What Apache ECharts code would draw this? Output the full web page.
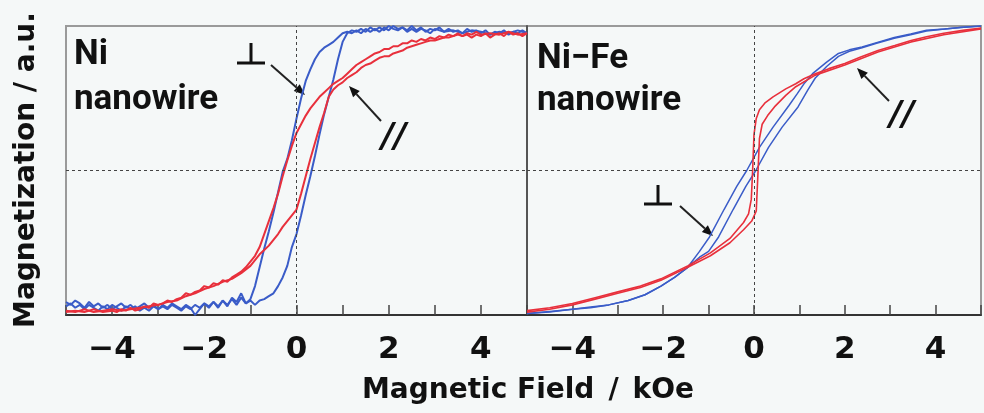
<!DOCTYPE html>
<html><head><meta charset="utf-8">
<script src="https://cdn.jsdelivr.net/npm/echarts@6/dist/echarts.min.js"></script>
<style>html,body{margin:0;padding:0;background:#f5f8f8}#c{width:984px;height:413px}</style>
</head><body><div id="c"></div>
<script>
// ---- tick labels ----
const xTickLabels = [-4, -2, 0, 2, 4];

// ---- Ni nanowire, perpendicular (blue) ----
const niPerpDown = [[5.0,0.95],[4.9,0.97],[4.8,0.95],[4.7,0.96],[4.6,0.94],[4.5,0.97],[4.4,0.95],[4.3,0.96],[4.2,0.94],[4.1,0.97],[4.0,0.95],[3.9,0.97],[3.8,0.96],[3.7,0.98],[3.6,0.95],[3.5,0.97],[3.4,0.96],[3.3,0.98],[3.2,0.96],[3.1,0.99],[3.0,0.97],[2.9,0.98],[2.8,0.96],[2.7,0.99],[2.6,0.97],[2.5,1.0],[2.4,0.97],[2.3,0.99],[2.2,0.98],[2.1,1.0],[2.0,0.97],[1.9,0.99],[1.8,0.96],[1.7,0.98],[1.6,0.96],[1.5,0.98],[1.4,0.95],[1.3,0.97],[1.2,0.95],[1.1,0.96],[1.0,0.95],[0.9,0.92],[0.8,0.89],[0.7,0.87],[0.6,0.85],[0.5,0.82],[0.4,0.77],[0.3,0.7],[0.2,0.62],[0.1,0.5],[0.0,0.36],[-0.1,0.21],[-0.2,0.08],[-0.3,-0.01],[-0.4,-0.15],[-0.5,-0.29],[-0.6,-0.42],[-0.7,-0.54],[-0.8,-0.67],[-0.9,-0.8],[-1.0,-0.89],[-1.1,-0.92],[-1.2,-0.85],[-1.3,-0.91],[-1.4,-0.88],[-1.5,-0.94],[-1.6,-0.9],[-1.7,-0.95],[-1.8,-0.91],[-1.9,-0.94],[-2.0,-0.92],[-2.1,-0.96],[-2.2,-1.0],[-2.3,-0.95],[-2.4,-0.93],[-2.5,-0.96],[-2.6,-0.94],[-2.7,-0.92],[-2.8,-0.95],[-2.9,-0.93],[-3.0,-0.96],[-3.1,-0.93],[-3.2,-0.95],[-3.3,-0.92],[-3.4,-0.94],[-3.5,-0.96],[-3.6,-0.93],[-3.7,-0.95],[-3.8,-0.92],[-3.9,-0.94],[-4.0,-0.96],[-4.1,-0.93],[-4.2,-0.95],[-4.3,-0.92],[-4.4,-0.94],[-4.5,-0.91],[-4.6,-0.95],[-4.7,-0.92],[-4.8,-0.9],[-4.9,-0.93],[-5.0,-0.91]];
const niPerpUp = [[-5.0,-0.94],[-4.9,-0.92],[-4.8,-0.95],[-4.7,-0.93],[-4.6,-0.96],[-4.5,-0.93],[-4.4,-0.95],[-4.3,-0.97],[-4.2,-0.94],[-4.1,-0.96],[-4.0,-0.93],[-3.9,-0.95],[-3.8,-0.97],[-3.7,-0.94],[-3.6,-0.96],[-3.5,-0.94],[-3.4,-0.97],[-3.3,-0.95],[-3.2,-0.97],[-3.1,-0.94],[-3.0,-0.96],[-2.9,-0.94],[-2.8,-0.96],[-2.7,-0.93],[-2.6,-0.95],[-2.5,-0.97],[-2.4,-0.94],[-2.3,-0.96],[-2.2,-0.93],[-2.1,-0.95],[-2.0,-0.92],[-1.9,-0.95],[-1.8,-0.91],[-1.7,-0.94],[-1.6,-0.9],[-1.5,-0.93],[-1.4,-0.89],[-1.3,-0.93],[-1.2,-0.88],[-1.1,-0.92],[-1.0,-0.9],[-0.9,-0.93],[-0.8,-0.9],[-0.7,-0.89],[-0.6,-0.87],[-0.5,-0.85],[-0.4,-0.8],[-0.3,-0.74],[-0.2,-0.66],[-0.1,-0.53],[0.0,-0.44],[0.1,-0.31],[0.2,-0.17],[0.3,-0.04],[0.4,0.1],[0.5,0.25],[0.6,0.39],[0.7,0.51],[0.8,0.63],[0.9,0.77],[1.0,0.89],[1.1,0.95],[1.2,0.97],[1.3,0.96],[1.4,0.98],[1.5,0.96],[1.6,0.99],[1.7,0.97],[1.8,0.99],[1.9,0.97],[2.0,1.0],[2.1,0.98],[2.2,0.97],[2.3,0.99],[2.4,0.96],[2.5,0.98],[2.6,0.96],[2.7,0.98],[2.8,0.97],[2.9,0.95],[3.0,0.98],[3.2,0.96],[3.4,0.97],[3.6,0.95],[3.8,0.97],[4.0,0.96],[4.2,0.94],[4.4,0.96],[4.6,0.95],[4.8,0.97],[5.0,0.95]];

// ---- Ni nanowire, parallel (red) ----
const niParaDown = [[5.0,0.95],[4.9,0.93],[4.8,0.95],[4.7,0.94],[4.6,0.96],[4.5,0.93],[4.4,0.95],[4.3,0.94],[4.2,0.92],[4.1,0.95],[4.0,0.93],[3.9,0.94],[3.8,0.92],[3.7,0.94],[3.6,0.93],[3.5,0.95],[3.4,0.93],[3.3,0.94],[3.2,0.92],[3.1,0.93],[3.0,0.91],[2.9,0.92],[2.8,0.9],[2.7,0.91],[2.6,0.89],[2.5,0.9],[2.4,0.88],[2.3,0.88],[2.2,0.86],[2.1,0.86],[2.0,0.84],[1.9,0.84],[1.8,0.82],[1.7,0.81],[1.6,0.79],[1.5,0.77],[1.4,0.75],[1.3,0.73],[1.2,0.7],[1.1,0.67],[1.0,0.64],[0.9,0.62],[0.8,0.6],[0.7,0.57],[0.6,0.54],[0.5,0.51],[0.4,0.47],[0.3,0.43],[0.2,0.38],[0.1,0.32],[0.0,0.26],[-0.1,0.17],[-0.2,0.07],[-0.3,-0.04],[-0.4,-0.16],[-0.5,-0.26],[-0.6,-0.35],[-0.7,-0.44],[-0.8,-0.53],[-0.9,-0.59],[-1.0,-0.63],[-1.1,-0.67],[-1.2,-0.7],[-1.3,-0.72],[-1.4,-0.74],[-1.5,-0.77],[-1.6,-0.76],[-1.7,-0.79],[-1.8,-0.78],[-1.9,-0.81],[-2.0,-0.8],[-2.1,-0.83],[-2.2,-0.84],[-2.3,-0.86],[-2.4,-0.85],[-2.5,-0.88],[-2.6,-0.89],[-2.7,-0.91],[-2.8,-0.9],[-2.9,-0.92],[-3.0,-0.93],[-3.1,-0.92],[-3.2,-0.95],[-3.3,-0.94],[-3.4,-0.96],[-3.5,-0.97],[-3.6,-0.95],[-3.7,-0.97],[-3.8,-0.96],[-3.9,-0.98],[-4.0,-0.97],[-4.2,-0.98],[-4.4,-0.96],[-4.6,-0.98],[-4.8,-0.97],[-5.0,-0.98]];
const niParaUp = [[-5.0,-0.97],[-4.8,-0.98],[-4.6,-0.96],[-4.4,-0.98],[-4.2,-0.97],[-4.0,-0.96],[-3.8,-0.97],[-3.6,-0.96],[-3.4,-0.95],[-3.2,-0.94],[-3.0,-0.93],[-2.8,-0.91],[-2.6,-0.9],[-2.4,-0.87],[-2.2,-0.85],[-2.0,-0.82],[-1.8,-0.8],[-1.6,-0.77],[-1.4,-0.75],[-1.2,-0.71],[-1.0,-0.66],[-0.9,-0.62],[-0.8,-0.58],[-0.7,-0.55],[-0.6,-0.52],[-0.5,-0.48],[-0.4,-0.44],[-0.3,-0.39],[-0.2,-0.35],[-0.1,-0.31],[0.0,-0.27],[0.1,-0.16],[0.2,-0.04],[0.3,0.08],[0.4,0.19],[0.5,0.3],[0.6,0.4],[0.7,0.51],[0.8,0.56],[0.9,0.59],[1.0,0.61],[1.1,0.64],[1.2,0.66],[1.3,0.68],[1.4,0.71],[1.5,0.73],[1.6,0.74],[1.7,0.76],[1.8,0.78],[1.9,0.79],[2.0,0.79],[2.1,0.81],[2.2,0.82],[2.3,0.83],[2.4,0.85],[2.5,0.86],[2.6,0.87],[2.7,0.88],[2.8,0.89],[2.9,0.9],[3.0,0.9],[3.1,0.91],[3.2,0.92],[3.3,0.92],[3.4,0.93],[3.5,0.94],[3.6,0.93],[3.7,0.95],[3.8,0.94],[3.9,0.96],[4.0,0.94],[4.2,0.95],[4.4,0.94],[4.6,0.96],[4.8,0.94],[5.0,0.95]];

// ---- Ni-Fe nanowire, perpendicular (blue) ----
const nifePerpDown = [[5.0,1.0],[4.54,0.99],[4.2,0.98],[3.8,0.97],[3.45,0.945],[3.09,0.92],[2.7,0.885],[2.38,0.855],[2.1,0.835],[1.86,0.81],[1.6,0.75],[1.29,0.67],[1.1,0.6],[0.95,0.53],[0.77,0.45],[0.42,0.3],[0.12,0.16],[-0.16,0.0],[-0.38,-0.11],[-0.66,-0.27],[-0.98,-0.46],[-1.2,-0.56],[-1.46,-0.67],[-1.75,-0.74],[-2.05,-0.8],[-2.4,-0.86],[-2.77,-0.9],[-3.2,-0.93],[-3.6,-0.95],[-4.0,-0.96],[-4.5,-0.98],[-5.0,-0.99]];
const nifePerpUp = [[-5.0,-0.99],[-4.5,-0.975],[-4.0,-0.96],[-3.6,-0.945],[-3.2,-0.93],[-2.77,-0.9],[-2.4,-0.86],[-2.05,-0.8],[-1.75,-0.74],[-1.46,-0.67],[-1.2,-0.6],[-1.0,-0.56],[-0.78,-0.46],[-0.46,-0.27],[-0.18,-0.11],[0.04,0.0],[0.32,0.16],[0.62,0.3],[0.97,0.44],[1.19,0.56],[1.35,0.64],[1.6,0.72],[1.86,0.79],[2.1,0.825],[2.38,0.85],[2.7,0.88],[3.09,0.915],[3.45,0.94],[3.8,0.965],[4.2,0.98],[4.54,0.99],[5.0,1.0]];

// ---- Ni-Fe nanowire, parallel (red) ----
const nifeParaDown = [[5.0,0.985],[4.6,0.97],[4.18,0.95],[3.8,0.925],[3.46,0.9],[3.1,0.865],[2.73,0.83],[2.35,0.785],[2.0,0.74],[1.65,0.705],[1.35,0.67],[1.1,0.635],[0.92,0.6],[0.7,0.565],[0.42,0.51],[0.25,0.47],[0.12,0.42],[0.05,0.36],[0.0,0.25],[-0.03,0.0],[-0.06,-0.2],[-0.12,-0.3],[-0.23,-0.36],[-0.53,-0.47],[-0.96,-0.57],[-1.46,-0.66],[-2.05,-0.75],[-2.5,-0.8],[-3.0,-0.84],[-3.5,-0.88],[-4.0,-0.92],[-4.5,-0.95],[-5.0,-0.97]];
const nifeParaUp = [[-5.0,-0.98],[-4.5,-0.96],[-4.0,-0.93],[-3.5,-0.89],[-3.0,-0.85],[-2.5,-0.81],[-2.05,-0.76],[-1.46,-0.67],[-0.96,-0.59],[-0.53,-0.5],[-0.23,-0.41],[-0.05,-0.35],[0.05,-0.28],[0.09,0.0],[0.12,0.22],[0.18,0.32],[0.3,0.38],[0.45,0.44],[0.7,0.52],[0.92,0.58],[1.35,0.66],[2.0,0.73],[2.73,0.82],[3.46,0.89],[4.18,0.94],[5.0,0.98]];

const BLUE = '#3a5cc8', RED = '#e8303c', FONT = 'DejaVu Sans';
const chart = echarts.init(document.getElementById('c'));

function tickFmt(v) { return xTickLabels.indexOf(v) >= 0 ? String(v).replace('-', '\u2212') : ''; }
function xAx(i) {
  return { gridIndex: i, type: 'value', min: -5, max: 5, interval: 1,
    axisLine: { show: true, onZero: false, lineStyle: { color: '#333', width: 2 } },
    axisTick: { show: true, inside: true, length: 10, lineStyle: { color: '#444', width: 1.5 } },
    axisLabel: { formatter: tickFmt, margin: 19, color: '#111', fontFamily: FONT, fontWeight: 'bold', fontSize: 31 },
    splitLine: { show: false } };
}
function yAx(i, showLine) {
  return { gridIndex: i, type: 'value', min: -1, max: 1,
    axisLine: { show: showLine, onZero: false, lineStyle: { color: '#555', width: 2 } },
    axisTick: { show: false }, axisLabel: { show: false }, splitLine: { show: false } };
}
const zeroLines = { silent: true, symbol: ['none', 'none'], label: { show: false },
  lineStyle: { color: '#444', type: [3, 3], width: 1 }, data: [{ xAxis: 0 }, { yAxis: 0 }], animation: false };
function ln(data, gi, color, w, mark) {
  const s = { type: 'line', xAxisIndex: gi, yAxisIndex: gi, data: data, showSymbol: false, symbol: 'none',
    lineStyle: { color: color, width: w }, itemStyle: { color: color }, animation: false, z: 3 };
  if (mark) s.markLine = zeroLines;
  return s;
}
function arrow(x1, y1, x2, y2) {
  const dx = x2 - x1, dy = y2 - y1, L = Math.hypot(dx, dy), ux = dx / L, uy = dy / L;
  const hl = 11, hw = 4.5, bx = x2 - ux * hl, by = y2 - uy * hl;
  return [
    { type: 'line', shape: { x1: x1, y1: y1, x2: bx, y2: by }, style: { stroke: '#222', lineWidth: 2 } },
    { type: 'polygon', shape: { points: [[x2, y2], [bx - uy * hw, by + ux * hw], [bx + uy * hw, by - ux * hw]] }, style: { fill: '#111' } }
  ];
}
function txt(t, x, y, size, fam, extra) {
  return Object.assign({ type: 'text', x: x, y: y, style: { text: t, fontSize: size, fontFamily: fam, fontWeight: 'bold',
    fill: '#111', textAlign: 'left', textVerticalAlign: 'middle', align: 'left', verticalAlign: 'middle' } }, extra || {});
}
function perp(cx, top, bar) {
  return [
    { type: 'line', shape: { x1: cx - 14, y1: bar, x2: cx + 14, y2: bar }, style: { stroke: '#111', lineWidth: 3 } },
    { type: 'line', shape: { x1: cx, y1: top, x2: cx, y2: bar }, style: { stroke: '#111', lineWidth: 3 } }
  ];
}
function centered(o) { o.style.textAlign = 'center'; o.style.align = 'center'; return o; }
const yTitle = centered(txt('Magnetization / a.u.', 27, 170, 28, FONT, { rotation: Math.PI / 2 }));
const xTitle = centered(txt('Magnetic Field\u2002/\u2002kOe', 528, 391, 28, FONT));
const slashL = centered(txt('//', 394, 138, 34, FONT)); slashL.style.fontStyle = 'italic';
const slashR = centered(txt('//', 902, 116, 34, FONT)); slashR.style.fontStyle = 'italic';

chart.setOption({
  backgroundColor: '#f5f8f8',
  animation: false,
  grid: [
    { left: 66, top: 26, width: 461, height: 289, show: true, borderColor: '#9a9a9a', borderWidth: 2, backgroundColor: 'transparent' },
    { left: 527, top: 26, width: 461, height: 289, show: true, borderColor: '#9a9a9a', borderWidth: 2, backgroundColor: 'transparent' }
  ],
  xAxis: [xAx(0), xAx(1)],
  yAxis: [yAx(0, false), yAx(1, true)],
  series: [
    ln(niPerpDown, 0, BLUE, 2, true), ln(niPerpUp, 0, BLUE, 2),
    ln(niParaDown, 0, RED, 2), ln(niParaUp, 0, RED, 2),
    ln(nifePerpDown, 1, BLUE, 1.5, true), ln(nifePerpUp, 1, BLUE, 1.5),
    ln(nifeParaDown, 1, RED, 1.6), ln(nifeParaUp, 1, RED, 1.6)
  ],
  graphic: [].concat(
    [txt('Ni', 74, 55, 35, 'Roboto'), txt('nanowire', 74, 100, 35, 'Roboto'),
     txt('Ni\u2212Fe', 537, 59, 35, 'Roboto'), txt('nanowire', 537, 101, 35, 'Roboto'),
     yTitle, xTitle, slashL, slashR],
    perp(251, 43, 63), perp(658, 185, 204),
    arrow(271, 65, 305, 95), arrow(381, 121, 349, 86),
    arrow(889, 101, 857, 68), arrow(680, 206, 713, 236)
  )
});
</script></body></html>
